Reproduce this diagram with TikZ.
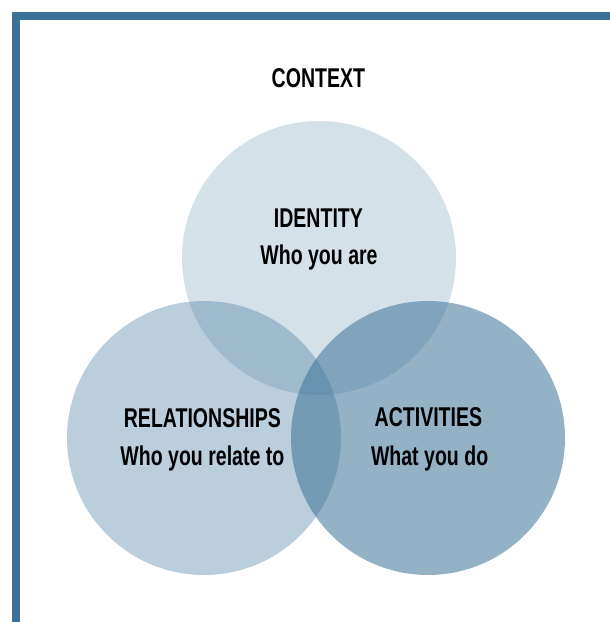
\documentclass[tikz,border=0pt]{standalone}
\usepackage{fontspec}
\setmainfont{Liberation Sans}[FakeStretch=0.72]
\usepackage{xcolor}
\usepackage{tikz}
\usetikzlibrary{positioning,calc}

\definecolor{frameblue}{HTML}{3A7298}

\begin{document}
\begin{tikzpicture}[
    lbl/.style = {anchor = base, inner sep = 0pt, font = \bfseries\fontsize{19.3}{23}\selectfont},
    venn/.style = {fill = frameblue, draw = none}
]

\useasboundingbox (0,0) rectangle (15.25,15.55);

% frame
\draw[line width = .2cm, frameblue, line join = miter] (.4,-1) -- (.4,15.15) -- (16,15.15);

\node[lbl] (context) at (7.96,13.35) {CONTEXT};

%%%%%%%%%%%%%%%%%%%%%%%%%%%%%%%%

\fill[venn, opacity = .21] (7.975,9.1) circle (3.425);
\fill[venn, opacity = .35] (5.1,4.6) circle (3.425);
\fill[venn, opacity = .55] (10.7,4.6) circle (3.425);

%%%%%%%%%%%%%%%%%%%%%%%%%%%%%%%%

\node[lbl] (identity) at (7.96,9.85) {IDENTITY};
\node[lbl] (whoare) at (7.975,8.925) {Who you are};

\node[lbl] (relationships) at (5.06,4.85) {RELATIONSHIPS};
\node[lbl] (whorelate) at (5.06,3.9) {Who you relate to};

\node[lbl] (activities) at (10.71,4.875) {ACTIVITIES};
\node[lbl] (whatdo) at (10.74,3.9) {What you do};

\end{tikzpicture}
\end{document}
